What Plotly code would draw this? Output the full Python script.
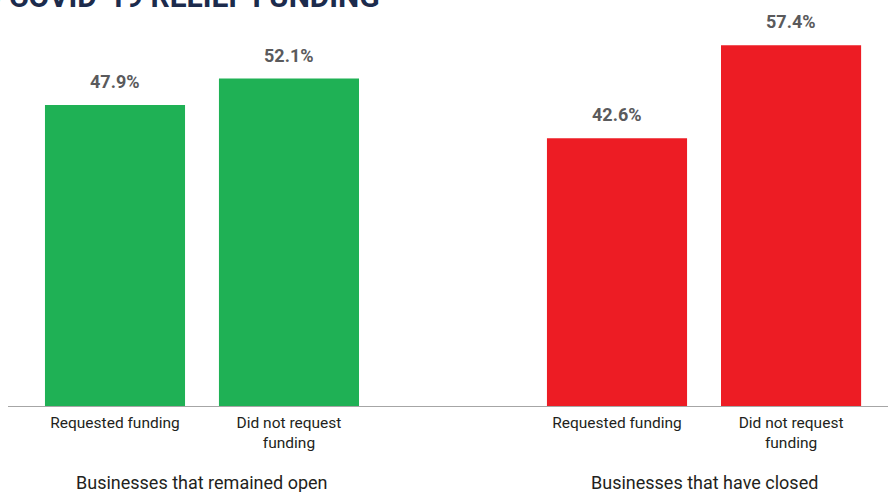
import plotly.graph_objects as go
from plotly.subplots import make_subplots

title_text = "ACCESS TO COVID-19 RELIEF FUNDING"
groups = ["Businesses that remained open", "Businesses that have closed"]
categories = ["Requested funding", "Did not request<br>funding"]
values = {
    "Businesses that remained open": [47.9, 52.1],
    "Businesses that have closed": [42.6, 57.4],
}
colors = {
    "Businesses that remained open": "#1fb155",
    "Businesses that have closed": "#ed1c24",
}

W, H = 888, 492
FONT = "Roboto, Arial"

fig = make_subplots(rows=1, cols=2, shared_yaxes=True, horizontal_spacing=0)

for i, g in enumerate(groups, start=1):
    fig.add_trace(
        go.Bar(
            x=categories,
            y=values[g],
            marker={"color": colors[g], "line": {"width": 0}},
            hoverinfo="skip",
            showlegend=False,
        ),
        row=1,
        col=i,
    )
    xref = "x" if i == 1 else "x2"
    for c, v in zip(categories, values[g]):
        fig.add_annotation(
            x=c, y=v, xref=xref, yref="y", text=f"<b>{v:.1f}%</b>",
            showarrow=False, yanchor="bottom", yshift=11,
            font={"family": FONT, "size": 18, "color": "#5a5a5c"},
        )
    # group label under the pair of bars
    fig.add_annotation(
        x=0.5, y=0, xref=xref, yref="paper", text=g,
        showarrow=False, yanchor="middle", yshift=-76,
        font={"family": FONT, "size": 18, "color": "#231f20"},
    )

# chart title, cut off at the top like the source image
fig.add_annotation(
    x=382 / W, y=1, xref="paper", yref="paper", xanchor="right", yanchor="top",
    yshift=23, text=f"<b>{title_text}</b>", showarrow=False,
    font={"family": FONT, "size": 30, "color": "#1c2b4c"},
)

axis_common = dict(
    type="category",
    showline=True,
    linecolor="#a6a6a6",
    linewidth=1,
    showgrid=False,
    ticks="",
    ticklabelstandoff=2,
    tickfont={"family": FONT, "size": 15.5, "color": "#231f20"},
    fixedrange=True,
)
fig.update_xaxes(domain=[8 / W, 448 / W], range=[-0.615, 1.914], **axis_common, row=1, col=1)
fig.update_xaxes(domain=[448 / W, 1], range=[-0.971, 1.557], **axis_common, row=1, col=2)
fig.update_yaxes(range=[0, 64.6], visible=False, showgrid=False, zeroline=False)

fig.update_layout(
    width=W,
    height=H,
    margin={"l": 0, "r": 0, "t": 0, "b": 86},
    bargap=0.195,
    plot_bgcolor="white",
    paper_bgcolor="white",
    font={"family": FONT},
)

fig.write_html(
    "out.html",
    config={"displayModeBar": False},
    post_script="document.body.style.margin='0';document.body.style.overflow='hidden';",
)
